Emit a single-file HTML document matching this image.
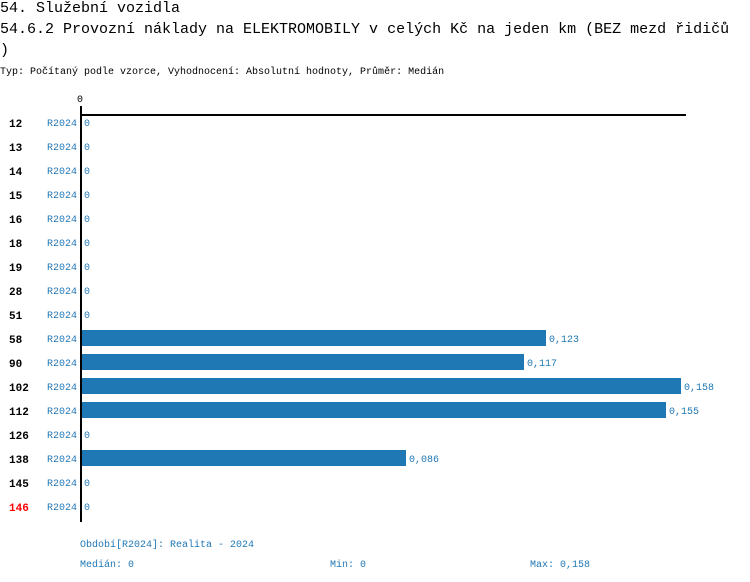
<!DOCTYPE html>
<html><head><meta charset="utf-8"><style>
body{margin:0;width:750px;height:582px;background:#fff;font-family:"Liberation Mono",monospace;position:relative;overflow:hidden}
div{position:absolute;white-space:nowrap}
.t{font-size:15px;color:#000;left:0}
.s{font-size:10px;left:0;top:67px}
.n{font-size:11px;font-weight:bold;left:9px}
.r{font-size:10px;color:#1f77b4;left:47px}
.v{font-size:10px;color:#1f77b4}
.b{background:#1f77b4;height:16px;left:82px}
.f{font-size:10px;color:#1f77b4}
</style></head><body>
<div class="t" style="top:0px">54. Služební vozidla</div>
<div class="t" style="top:21px">54.6.2 Provozní náklady na ELEKTROMOBILY v celých Kč na jeden km (BEZ mezd řidičů</div>
<div class="t" style="top:42px">)</div>
<div class="s">Typ: Počítaný podle vzorce, Vyhodnocení: Absolutní hodnoty, Průměr: Medián</div>
<div class="v" style="left:77px;top:95px;color:#000">0</div>
<div style="left:80px;top:106px;width:2px;height:416px;background:#000"></div>
<div style="left:80px;top:114px;width:606px;height:2px;background:#000"></div>
<div class="n" style="top:119px">12</div><div class="r" style="top:119px">R2024</div><div class="v" style="left:84px;top:119px">0</div>
<div class="n" style="top:143px">13</div><div class="r" style="top:143px">R2024</div><div class="v" style="left:84px;top:143px">0</div>
<div class="n" style="top:167px">14</div><div class="r" style="top:167px">R2024</div><div class="v" style="left:84px;top:167px">0</div>
<div class="n" style="top:191px">15</div><div class="r" style="top:191px">R2024</div><div class="v" style="left:84px;top:191px">0</div>
<div class="n" style="top:215px">16</div><div class="r" style="top:215px">R2024</div><div class="v" style="left:84px;top:215px">0</div>
<div class="n" style="top:239px">18</div><div class="r" style="top:239px">R2024</div><div class="v" style="left:84px;top:239px">0</div>
<div class="n" style="top:263px">19</div><div class="r" style="top:263px">R2024</div><div class="v" style="left:84px;top:263px">0</div>
<div class="n" style="top:287px">28</div><div class="r" style="top:287px">R2024</div><div class="v" style="left:84px;top:287px">0</div>
<div class="n" style="top:311px">51</div><div class="r" style="top:311px">R2024</div><div class="v" style="left:84px;top:311px">0</div>
<div class="n" style="top:335px">58</div><div class="r" style="top:335px">R2024</div><div class="b" style="top:330px;width:464px"></div><div class="v" style="left:549px;top:335px">0,123</div>
<div class="n" style="top:359px">90</div><div class="r" style="top:359px">R2024</div><div class="b" style="top:354px;width:442px"></div><div class="v" style="left:527px;top:359px">0,117</div>
<div class="n" style="top:383px">102</div><div class="r" style="top:383px">R2024</div><div class="b" style="top:378px;width:599px"></div><div class="v" style="left:684px;top:383px">0,158</div>
<div class="n" style="top:407px">112</div><div class="r" style="top:407px">R2024</div><div class="b" style="top:402px;width:584px"></div><div class="v" style="left:669px;top:407px">0,155</div>
<div class="n" style="top:431px">126</div><div class="r" style="top:431px">R2024</div><div class="v" style="left:84px;top:431px">0</div>
<div class="n" style="top:455px">138</div><div class="r" style="top:455px">R2024</div><div class="b" style="top:450px;width:324px"></div><div class="v" style="left:409px;top:455px">0,086</div>
<div class="n" style="top:479px">145</div><div class="r" style="top:479px">R2024</div><div class="v" style="left:84px;top:479px">0</div>
<div class="n" style="top:503px;color:#f00">146</div><div class="r" style="top:503px">R2024</div><div class="v" style="left:84px;top:503px">0</div>
<div class="f" style="left:80px;top:540px">Období[R2024]: Realita - 2024</div>
<div class="f" style="left:80px;top:560px">Medián: 0</div>
<div class="f" style="left:330px;top:560px">Min: 0</div>
<div class="f" style="left:530px;top:560px">Max: 0,158</div>
</body></html>
